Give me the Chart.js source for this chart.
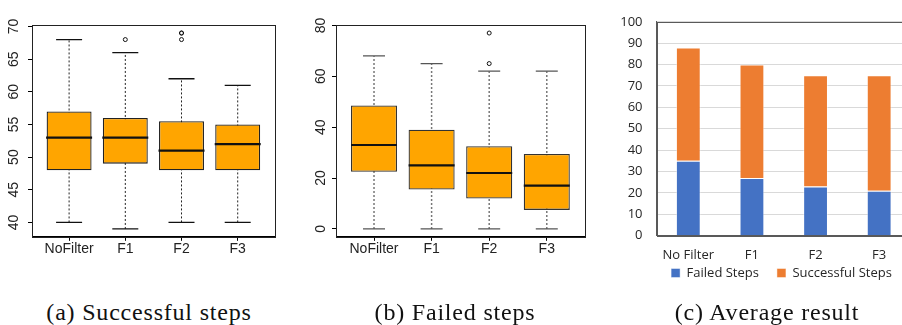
<!DOCTYPE html>
<html>
<head>
<meta charset="utf-8">
<script src="https://cdn.jsdelivr.net/npm/chart.js@4/dist/chart.umd.min.js"></script>
<style>
	body { margin: 0; width: 902px; height: 325px; overflow: hidden; background: #fff; position: relative; }
	canvas { position: absolute; top: 0; }
	.cap { position: absolute; top: 300px; width: 300px; text-align: center; white-space: nowrap;
		font-family: "Liberation Serif", serif; font-size: 24px; line-height: 24px; letter-spacing: 0.8px; color: #111; }
</style>
</head>
<body>
<canvas id="succ" width="300" height="262" style="left:0"></canvas>
<canvas id="fail" width="310" height="262" style="left:300px"></canvas>
<canvas id="avg" width="343" height="304" style="left:610px"></canvas>
<div class="cap" style="left:-1px">(a) Successful steps</div>
<div class="cap" style="left:305px">(b) Failed steps</div>
<div class="cap" style="left:617px">(c) Average result</div>
<script>
const boxLabels = ['NoFilter', 'F1', 'F2', 'F3'];

const succLow = [40, 39, 40, 40];
const succQ1 = [48, 49, 48, 48];
const succMed = [53, 53, 51, 52];
const succQ3 = [57, 56, 55.5, 55];
const succHigh = [68, 66, 62, 61];
const succOut = [[], [68], [68, 69, 69], []];
const succTicks = [40, 45, 50, 55, 60, 65, 70];

const failLow = [0, 0, 0, 0];
const failQ1 = [22.5, 15.5, 12, 7.5];
const failMed = [33, 25, 22, 17];
const failQ3 = [48.5, 39, 32.5, 29.5];
const failHigh = [68, 65, 62, 62];
const failOut = [[], [], [65, 77], []];
const failTicks = [0, 20, 40, 60, 80];

const avgLabels = ['No Filter', 'F1', 'F2', 'F3'];
const avgFailed = [35, 27, 23, 21];
const avgSuccess = [53, 53, 52, 54];

const frame = {
	id: 'frame',
	afterDraw(chart, args, opts) {
		const { ctx, chartArea: a } = chart;
		ctx.save();
		ctx.strokeStyle = opts.color;
		ctx.lineWidth = 1;
		ctx.strokeRect(Math.round(a.left) + 0.5, Math.round(a.top) + 0.5,
			Math.round(a.right - a.left), Math.round(a.bottom - a.top));
		ctx.restore();
	}
};

// the legend sits closer under the axis labels than chart.js would put it,
// and is centred on the whole (cropped) excel chart, not on the padded box
const moveLegend = {
	id: 'moveLegend',
	afterLayout(chart, args, opts) {
		chart.legend.top -= opts.dy;
		chart.legend.bottom -= opts.dy;
		chart.legend.left += opts.dx;
		chart.legend.right += opts.dx;
	}
};

const boxChart = (id, s) => {
	const xs = boxLabels.map((label, i) => i + 1);
	const whiskers = [];
	xs.forEach((x, i) => whiskers.push({ x, y: s.low[i] }, { x, y: s.high[i] }, { x, y: null }));
	const caps = xs.flatMap((x, i) => [{ x, y: s.low[i] }, { x, y: s.high[i] }]);
	const outliers = xs.flatMap((x, i) => s.out[i].map(y => ({ x, y })));
	const font = { family: '"Liberation Sans", Arial, sans-serif', size: 14 };

	return new Chart(document.getElementById(id), {
		type: 'bar',
		data: {
			datasets: [
				{
					type: 'scatter',
					data: xs.map((x, i) => ({ x, y: s.med[i] })),
					pointStyle: 'line',
					pointRadius: s.medR,
					pointBorderColor: '#111',
					pointBorderWidth: 2.2,
					order: 0
				},
				{
					type: 'scatter',
					data: outliers,
					pointStyle: 'circle',
					pointRadius: 2,
					pointBackgroundColor: 'rgba(0,0,0,0)',
					pointBorderColor: '#111',
					pointBorderWidth: 1,
					order: 0
				},
				{
					type: 'scatter',
					data: caps,
					pointStyle: 'line',
					pointRadius: s.capR,
					pointBorderColor: s.capColor,
					pointBorderWidth: 1.3,
					order: 1
				},
				{
					type: 'bar',
					data: xs.map((x, i) => ({ x, y: [s.q1[i], s.q3[i]] })),
					backgroundColor: '#FFA500',
					borderColor: s.edge,
					borderWidth: 1.3,
					borderSkipped: false,
					barPercentage: 0.8,
					categoryPercentage: 1,
					order: 2
				},
				{
					type: 'line',
					data: whiskers,
					borderColor: s.whiskColor,
					borderWidth: s.whiskWidth,
					borderDash: [2, 2],
					pointRadius: 0,
					spanGaps: false,
					order: 3
				}
			]
		},
		options: {
			responsive: false,
			animation: false,
			events: [],
			layout: { padding: { top: s.top, right: s.right, bottom: 0, left: 0 } },
			plugins: {
				legend: { display: false },
				tooltip: { enabled: false },
				frame: { color: '#222' }
			},
			scales: {
				x: {
					type: 'linear',
					min: 0.34,
					max: 4.66,
					offset: false,
					afterBuildTicks: sc => { sc.ticks = xs.map(v => ({ value: v })); },
					afterFit: sc => { sc.height = 22; },
					grid: { drawOnChartArea: false, drawTicks: true, tickLength: 4, color: '#000', offset: false },
					border: { display: true, color: '#000' },
					ticks: {
						callback: v => boxLabels[v - 1],
						font,
						color: '#222',
						padding: 0,
						maxRotation: 0,
						autoSkip: false
					}
				},
				y: {
					type: 'linear',
					min: s.yMin,
					max: s.yMax,
					afterBuildTicks: sc => { sc.ticks = s.ticks.map(v => ({ value: v })); },
					afterFit: sc => { sc.width = s.left; },
					grid: { drawOnChartArea: false, drawTicks: true, tickLength: 4, color: '#000' },
					border: { display: true, color: '#000' },
					ticks: {
						font,
						color: '#222',
						minRotation: 90,
						maxRotation: 90,
						crossAlign: 'center',
						padding: s.labelPad
					}
				}
			}
		},
		plugins: [frame]
	});
};

boxChart('succ', {
	low: succLow, q1: succQ1, med: succMed, q3: succQ3, high: succHigh, out: succOut,
	ticks: succTicks, yMin: 37.8, yMax: 70.2,
	top: 16, right: 17, left: 32, labelPad: 6,
	medR: 23, capR: 13, capColor: '#111', edge: '#222', whiskColor: '#222', whiskWidth: 1
});

boxChart('fail', {
	low: failLow, q1: failQ1, med: failMed, q3: failQ3, high: failHigh, out: failOut,
	ticks: failTicks, yMin: -3.08, yMax: 80.08,
	top: 16, right: 23, left: 36, labelPad: 3,
	medR: 23, capR: 11, capColor: '#555', edge: '#333', whiskColor: '#777', whiskWidth: 1.5
});

const excelFont = { family: '"Open Sans", sans-serif', size: 13 };

new Chart(document.getElementById('avg'), {
	type: 'bar',
	data: {
		labels: avgLabels,
		datasets: [
			{
				label: 'Failed Steps',
				data: avgFailed,
				backgroundColor: '#4472C4',
				borderColor: 'rgba(255,255,255,0.45)',
				borderWidth: 1
			},
			{
				label: 'Successful Steps',
				data: avgSuccess,
				backgroundColor: '#ED7D31',
				borderColor: 'rgba(255,255,255,0.45)',
				borderWidth: 1
			}
		]
	},
	options: {
		responsive: false,
		animation: false,
		events: [],
		barPercentage: 0.39,
		categoryPercentage: 1,
		layout: { padding: { top: 15, right: 42, bottom: 0, left: 0 } },
		plugins: {
			tooltip: { enabled: false },
			frame: { color: '#595959' },
			moveLegend: { dy: 14.5, dx: 21 },
			legend: {
				position: 'bottom',
				labels: { boxWidth: 9, boxHeight: 9, padding: 18, font: excelFont, color: '#262626' }
			}
		},
		scales: {
			x: {
				stacked: true,
				afterFit: sc => { sc.height = 27.3; },
				grid: { display: false, drawTicks: false },
				border: { display: true, color: '#595959' },
				ticks: { font: excelFont, color: '#262626', padding: 12.2, maxRotation: 0 }
			},
			y: {
				stacked: true,
				min: 0,
				max: 100,
				afterFit: sc => { sc.width = 46.5; },
				grid: { color: '#d9d9d9', drawTicks: false },
				border: { display: true, color: '#595959' },
				ticks: { stepSize: 10, font: excelFont, color: '#262626', padding: 14 }
			}
		}
	},
	plugins: [frame, moveLegend]
});
</script>
</body>
</html>
